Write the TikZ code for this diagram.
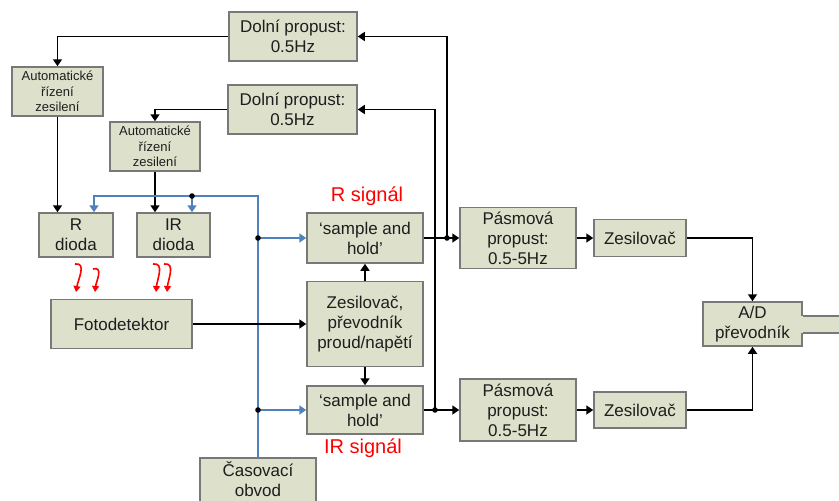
\documentclass[tikz,border=0pt]{standalone}
\usepackage{fontspec}
\setmainfont{Liberation Sans}
\usetikzlibrary{arrows.meta}
\definecolor{boxfill}{RGB}{221,224,203}
\definecolor{boxdraw}{RGB}{120,120,120}
\definecolor{tblue}{RGB}{79,129,189}
\definecolor{txt}{RGB}{30,30,30}
\begin{document}
\begin{tikzpicture}[x=1pt,y=-1pt,
  blk/.style={draw=boxdraw, fill=boxfill, line width=1.5pt, inner sep=0pt, align=center, text=txt, font=\fontsize{17}{20}\selectfont},
  smalltext/.style={font=\fontsize{13}{15.5}\selectfont},
  sz/.style 2 args={minimum width=#1pt, minimum height=#2pt},
  con/.style={line width=1.7pt, black, -{Triangle[width=9pt,length=7pt]}},
  bcon/.style={line width=1.7pt, tblue, -{Triangle[width=9pt,length=7pt]}},
  wave/.style={line width=1.6pt, red, -{Triangle[width=7pt,length=6pt]}},
  sig/.style={text=red, font=\fontsize{20}{24}\selectfont},
  jdot/.style={fill=black}
]
\useasboundingbox (0,0) rectangle (839,501);
\clip (0,0) rectangle (839,501);

% boxes
\node[blk, sz={128}{49}] (dp1) at (293,36.5) {Doln\'i propust:\\0.5Hz};
\node[blk, sz={129}{49}] (dp2) at (292.5,109.5) {Doln\'i propust:\\0.5Hz};
\node[blk, smalltext, sz={91}{49}] (ag1) at (57.5,91.5) {Automatick\'e\\\v{r}\'izen\'i\\zesilen\'i};
\node[blk, smalltext, sz={90}{49}] (ag2) at (155,146.5) {Automatick\'e\\\v{r}\'izen\'i\\zesilen\'i};
\node[blk, sz={74}{44}] (rd) at (76,235) {R\\dioda};
\node[blk, sz={73}{44}] (ird) at (173.5,235) {IR\\dioda};
\node[blk, sz={141}{49}] (foto) at (121.5,324) {Fotodetektor};
\node[blk, sz={116}{50}] (sh1) at (365,238) {‘sample and\\hold’};
\node[blk, sz={116}{85}] (zp) at (365,324) {Zesilova\v{c},\\p\v{r}evodn\'ik\\proud/nap\v{e}t\'i};
\node[blk, sz={116}{48}] (sh2) at (365,410) {‘sample and\\hold’};
\node[blk, sz={116}{50}] (cas) at (258,483) {};
\node[txt, align=center, font=\fontsize{17}{20}\selectfont] (castext) at (258,479) {\v{C}asovac\'i\\obvod};
\node[blk, sz={116}{61}] (pb1) at (518,238) {P\'asmov\'a\\propust:\\0.5-5Hz};
\node[blk, sz={92}{37}] (z1) at (640,238) {Zesilova\v{c}};
\node[blk, sz={116}{62}] (pb2) at (518,410) {P\'asmov\'a\\propust:\\0.5-5Hz};
\node[blk, sz={92}{36}] (z2) at (640,410) {Zesilova\v{c}};
\node[blk, sz={99}{44}] (ad) at (752.5,324) {A/D\\p\v{r}evodn\'ik};

% A/D output stub
\coordinate (st1) at (802.5,316);
\coordinate (st2) at (845,333);
\fill[boxfill] ([xshift=-1.5pt]st1) rectangle (st2);
\draw[boxdraw, line width=1.5pt] (ad.east |- st1) -- (st1 -| st2);
\draw[boxdraw, line width=1.5pt] (ad.east |- st2) -- (st2);

% labels
\node[sig] (rs) at (367,196) {R sign\'al};
\node[sig] (irs) at (363,448) {IR sign\'al};

% feedback paths
\draw[con] (dp1.west) -| (ag1.north);
\draw[con] (dp2.west) -| (ag2.north);
\draw[con] (ag1.south) -- (ag1.south |- rd.north);
\draw[con] (ag2.south) -- (ag2.south |- ird.north);

% timing (blue)
\coordinate (bl) at (94,196);
\coordinate (bi) at (192,196);
\coordinate (bj1) at (258,238);
\coordinate (bj2) at (258,410);
\draw[bcon] (cas.north) |- (bl) -- (bl |- rd.north);
\draw[bcon] (bi) -- (bi |- ird.north);
\draw[bcon] (bj1) -- (sh1.west);
\draw[bcon] (bj2) -- (sh2.west);
\fill[jdot] (bi) circle (2.8pt);
\fill[jdot] (bj1) circle (2.8pt);
\fill[jdot] (bj2) circle (2.8pt);

% signal chain
\draw[con] (foto.east) -- (zp.west);
\draw[con] (zp.north) -- (sh1.south);
\draw[con] (zp.south) -- (sh2.north);
\coordinate (j1) at (447,238);
\coordinate (j2) at (435,410);
\draw[con] (sh1.east) -- (pb1.west);
\draw[con] (sh2.east) -- (pb2.west);
\draw[con] (j1) |- (dp1.east);
\draw[con] (j2) |- (dp2.east);
\fill[jdot] (j1) circle (2.8pt);
\fill[jdot] (j2) circle (2.8pt);
\draw[con] (pb1.east) -- (z1.west);
\draw[con] (pb2.east) -- (z2.west);
\draw[con] (z1.east) -| (ad.north);
\draw[con] (z2.east) -| (ad.south);

% light (red)
\draw[wave] (75,264) .. controls (87,262) and (78,280) .. (76,292);
\draw[wave] (93,269) .. controls (104,266) and (96,282) .. (95,292);
\draw[wave] (153,264) .. controls (165,262) and (157,280) .. (156,292);
\draw[wave] (164,264) .. controls (176,262) and (168,280) .. (167,292);
\end{tikzpicture}
\end{document}
